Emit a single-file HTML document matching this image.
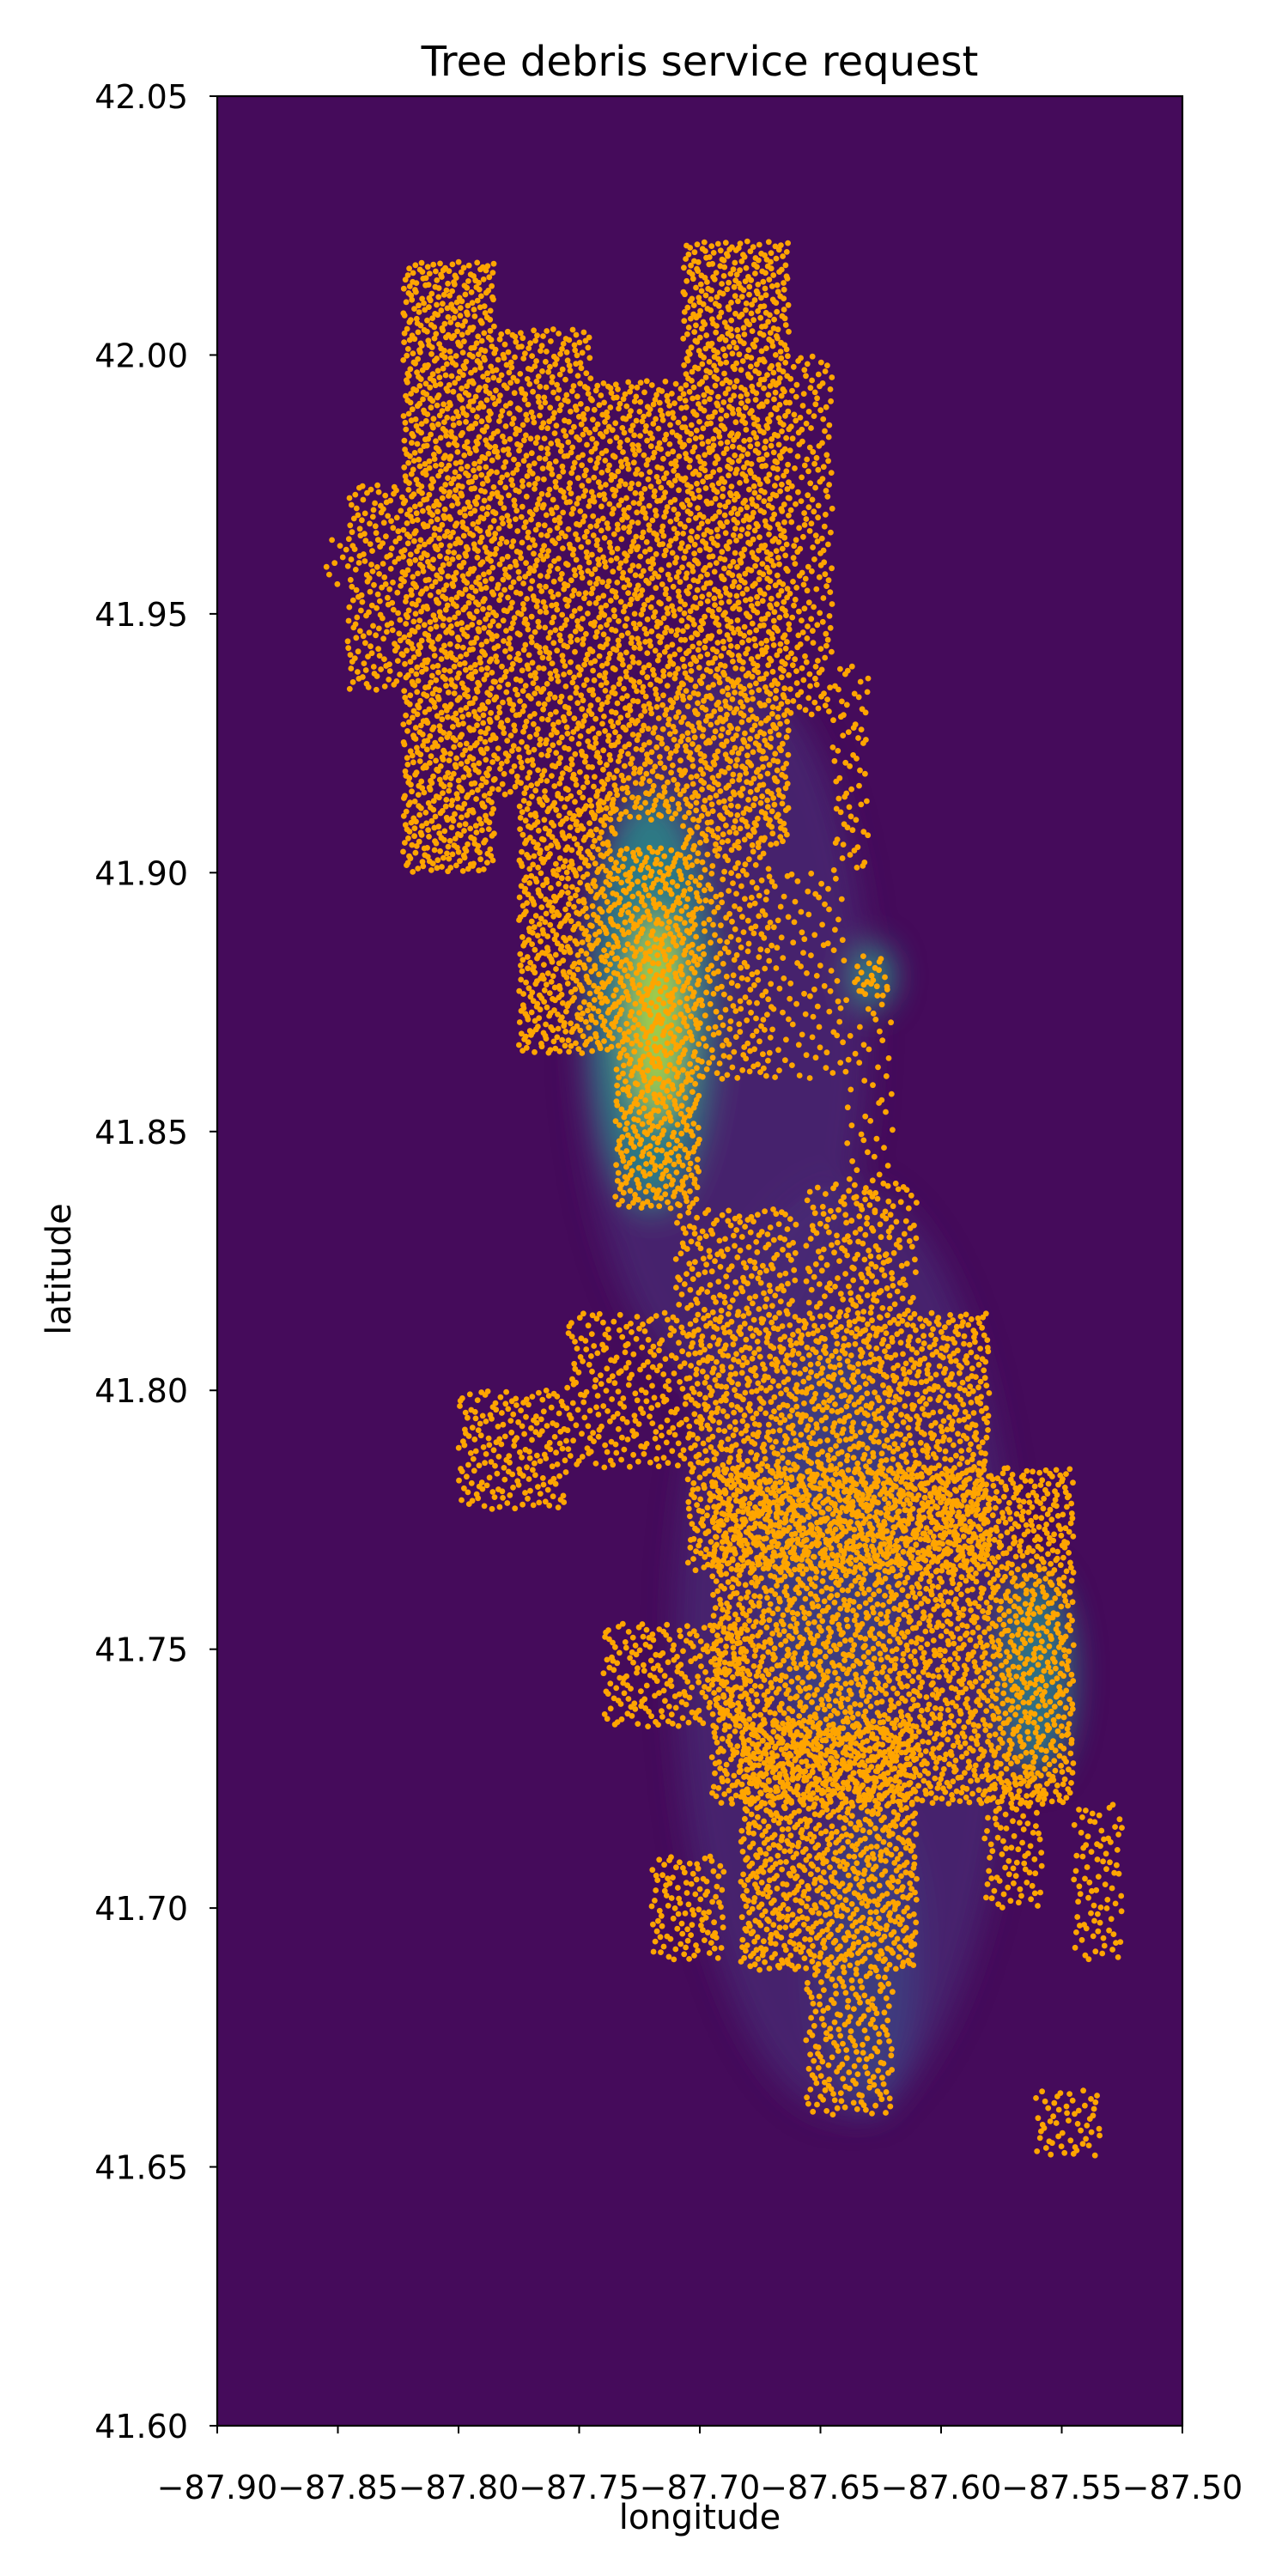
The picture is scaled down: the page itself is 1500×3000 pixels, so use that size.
<!DOCTYPE html>
<html><head><meta charset="utf-8"><style>
html,body{margin:0;padding:0;background:#fff;}
svg{display:block;}
text{font-family:"DejaVu Sans","Liberation Sans",sans-serif;fill:#000;}
</style></head><body>
<svg id="chart" width="1500" height="3000" viewBox="0 0 1500 3000" xmlns="http://www.w3.org/2000/svg">
<defs>
<filter id="blur" x="-50%" y="-50%" width="200%" height="200%"><feGaussianBlur stdDeviation="18"/></filter>
<clipPath id="plotclip"><rect x="253" y="112" width="1124" height="2713"/></clipPath>
</defs>
<text x="815" y="88" font-size="48" text-anchor="middle">Tree debris service request</text>
<rect x="253" y="112" width="1124" height="2713" fill="#450b5b"/>
<g id="heat" clip-path="url(#plotclip)" filter="url(#blur)"></g>
<g id="pts" clip-path="url(#plotclip)"></g>
<rect x="253" y="112" width="1124" height="2713" fill="none" stroke="#000" stroke-width="2.2"/>
<g id="axes"></g>
<text x="815" y="2945" font-size="40" text-anchor="middle">longitude</text>
<text x="0" y="0" font-size="40" text-anchor="middle" transform="translate(82,1478) rotate(-90)">latitude</text>
</svg>
<script>
// axis domain
const lonTicks = [-87.90,-87.85,-87.80,-87.75,-87.70,-87.65,-87.60,-87.55,-87.50];
const latTicks = [41.60,41.65,41.70,41.75,41.80,41.85,41.90,41.95,42.00,42.05];
// density blocks: lon0, lon1, latLow, latHigh, fill density
const blockLon0 = [-87.823,-87.846,-87.855,-87.785,-87.745,-87.707,-87.663,-87.645,-87.775,-87.735,-87.70,-87.67,-87.64,-87.635,-87.80,-87.755,-87.71,-87.705,-87.656,-87.74,-87.695,-87.683,-87.72,-87.656,-87.582,-87.545,-87.561];
const blockLon1 = [-87.785,-87.823,-87.846,-87.745,-87.707,-87.663,-87.645,-87.63,-87.735,-87.70,-87.67,-87.64,-87.62,-87.622,-87.755,-87.705,-87.66,-87.58,-87.61,-87.68,-87.545,-87.61,-87.69,-87.62,-87.558,-87.525,-87.534];
const blockLatLo = [41.90,41.935,41.955,41.915,41.91,41.905,41.93,41.90,41.865,41.835,41.86,41.86,41.81,41.876,41.777,41.785,41.815,41.765,41.815,41.735,41.72,41.688,41.69,41.66,41.70,41.69,41.652];
const blockLatHi = [42.018,41.975,41.965,42.005,41.995,42.022,42.0,41.94,41.915,41.905,41.905,41.90,41.88,41.884,41.80,41.815,41.835,41.815,41.84,41.755,41.785,41.736,41.71,41.688,41.726,41.72,41.665];
const blockDens = [0.9,0.6,0.3,0.7,0.75,0.85,0.5,0.35,0.9,0.85,0.5,0.25,0.2,0.6,0.6,0.5,0.55,0.8,0.45,0.6,0.85,0.9,0.6,0.6,0.5,0.45,0.5];
// heat hotspots: lon, lat, lon radius, lat radius, color
const hotLon = [-87.69,-87.64,-87.72,-87.718,-87.628,-87.645,-87.56,-87.63];
const hotLat = [41.87,41.75,41.875,41.872,41.88,41.77,41.745,41.69];
const hotRLon = [0.06,0.07,0.025,0.01,0.008,0.03,0.015,0.02];
const hotRLat = [0.07,0.09,0.04,0.02,0.006,0.04,0.02,0.03];
const hotColor = ["#47307a","#47307a","#2a8c8a","#b5dc36","#2a9a8a","#3b4f8a","#2a8a8c","#3b4f8a"];
const hotOpacity = [0.6,0.6,0.85,0.9,0.9,0.6,0.8,0.6];

const X0=253,X1=1377,Y0=112,Y1=2825;
const xS = lon => X0 + (lon + 87.9) / 0.4 * (X1 - X0);
const yS = lat => Y0 + (42.05 - lat) / 0.45 * (Y1 - Y0);
const NS="http://www.w3.org/2000/svg";
function mk(tag, attrs, parent){const e=document.createElementNS(NS,tag);for(const k in attrs)e.setAttribute(k,attrs[k]);parent.appendChild(e);return e;}

const heat=document.getElementById('heat');
for(let i=0;i<hotLon.length;i++){
  const e=mk('ellipse',{cx:xS(hotLon[i]),cy:yS(hotLat[i]),rx:hotRLon[i]/0.4*(X1-X0),ry:hotRLat[i]/0.45*(Y1-Y0),fill:hotColor[i],opacity:hotOpacity[i]},heat);
  
  
}

function halton(i,b){let f=1,r=0;while(i>0){f/=b;r+=f*(i%b);i=Math.floor(i/b);}return r;}
const pts=document.getElementById('pts');
for(let b=0;b<blockLon0.length;b++){
  const x0=xS(blockLon0[b]),x1=xS(blockLon1[b]),y0=yS(blockLatHi[b]),y1=yS(blockLatLo[b]);
  const n=Math.round(blockDens[b]*(x1-x0)*(y1-y0)/55);
  for(let k=1;k<=n;k++){
    const c=mk('circle',{cx:(x0+(x1-x0)*halton(k+b*7,2)).toFixed(1),cy:(y0+(y1-y0)*halton(k+b*7,3)).toFixed(1),r:3.4,fill:'#ffa500'},pts);
    
    
  }
}

const axes=document.getElementById('axes');
lonTicks.forEach(v=>{
  const x=xS(v);
  const t=mk('line',{x1:x,x2:x,y1:Y1,y2:Y1+9,stroke:'#000','stroke-width':2},axes);
  
  
  const l=mk('text',{x:x,y:2910,'font-size':38,'text-anchor':'middle'},axes);
  l.textContent='\u2212'+Math.abs(v).toFixed(2);
  
  
});
latTicks.forEach(v=>{
  const y=yS(v);
  const t=mk('line',{x1:X0-9,x2:X0,y1:y,y2:y,stroke:'#000','stroke-width':2},axes);
  
  
  const l=mk('text',{x:219,y:y+14,'font-size':38,'text-anchor':'end'},axes);
  l.textContent=v.toFixed(2);
  
  
});
</script>
</body></html>
